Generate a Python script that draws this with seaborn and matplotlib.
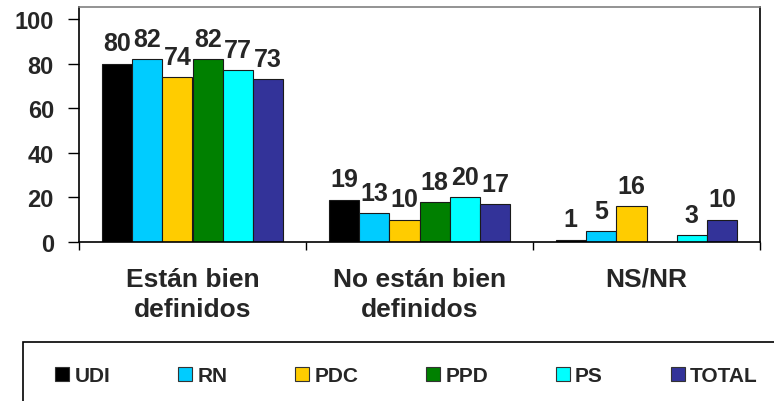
import numpy as np
import pandas as pd
import matplotlib.pyplot as plt
import seaborn as sns
from matplotlib.patches import Patch, Rectangle

# Data
categories = ["Están bien\ndefinidos", "No están bien\ndefinidos", "NS/NR"]
parties = ["UDI", "RN", "PDC", "PPD", "PS", "TOTAL"]
udi = [80, 19, 1]
rn = [82, 13, 5]
pdc = [74, 10, 16]
ppd = [82, 18, np.nan]
ps = [77, 20, 3]
total = [73, 17, 10]
colors = ["#000000", "#00CCFF", "#FFCC00", "#008000", "#00FFFF", "#333399"]

rows = []
for party, vals in zip(parties, [udi, rn, pdc, ppd, ps, total]):
    for cat, v in zip(categories, vals):
        rows.append({"Categoria": cat, "Partido": party, "Valor": v})
df = pd.DataFrame(rows)

sns.set_style("white")
plt.rcParams["font.family"] = ["Liberation Sans", "DejaVu Sans"]
plt.rcParams["font.weight"] = "bold"

fig = plt.figure(figsize=(7.74, 4.02), dpi=100)
ax = fig.add_axes([79 / 774, 1 - 243 / 402, (760 - 79) / 774, (243 - 8) / 402])

sns.barplot(data=df, x="Categoria", y="Valor", hue="Partido",
            order=categories, hue_order=parties, palette=colors, saturation=1,
            width=0.8, edgecolor="#1a1a1a", linewidth=0.8, ax=ax, legend=False)

# Value labels
for cont in ax.containers:
    ax.bar_label(cont, fmt="%.0f", padding=6, fontsize=18, fontweight="bold")

# Axes
ax.set_ylim(0, 105.4)
ax.set_xlim(-0.5, 2.5)
ax.set_yticks([0, 20, 40, 60, 80, 100])
ax.tick_params(axis="y", direction="out", length=8, width=1, color="black",
               labelsize=17, pad=10, left=True)
ax.set_xticks(range(len(categories)))
ax.set_xticklabels(categories, fontsize=19, linespacing=1.33)
ax.tick_params(axis="x", which="major", length=0, pad=18)
ax.set_xticks([-0.5, 0.5, 1.5, 2.5], minor=True)
ax.tick_params(axis="x", which="minor", direction="out", length=6, width=1,
               color="black", bottom=True)
plt.setp(ax.get_xticklabels() + ax.get_yticklabels(), fontweight="bold")
ax.set_xlabel("")
ax.set_ylabel("")
for side in ["left", "right", "bottom"]:
    ax.spines[side].set_color("black")
    ax.spines[side].set_linewidth(1.2)
ax.spines["top"].set_color("#808080")
ax.spines["top"].set_linewidth(1.2)

# Legend at the bottom
handles = [Patch(facecolor=c, edgecolor="#333333", linewidth=0.8) for c in colors]
fig.legend(handles, parties, ncol=6, loc="center", mode="expand",
           bbox_to_anchor=(45 / 774, 1 - 387 / 402, (768 - 45) / 774, 20 / 402),
           frameon=False, borderpad=0, handlelength=0.67, handleheight=0.63,
           handletextpad=0.25, prop={"size": 15, "weight": "bold"})
fig.add_artist(Rectangle((23 / 774, -0.1), 1.0, (1 - 343 / 402) + 0.1,
                         transform=fig.transFigure, fill=False,
                         edgecolor="black", linewidth=1.2))

plt.savefig("out.png", dpi=100)
plt.close()
